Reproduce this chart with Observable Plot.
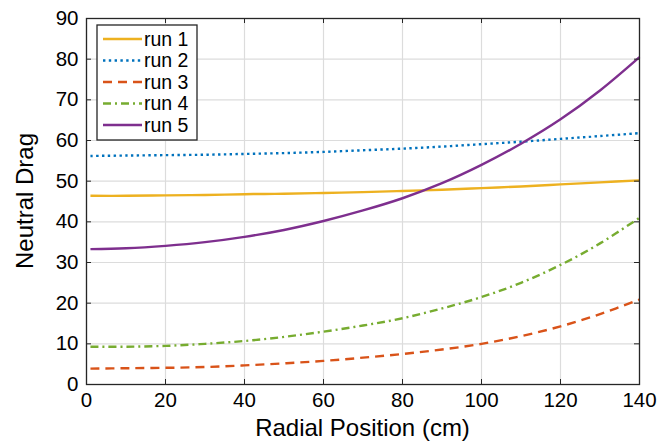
<!DOCTYPE html>
<html>
<head>
<meta charset="utf-8">
<script src="https://cdn.jsdelivr.net/npm/d3@7"></script>
<script src="https://cdn.jsdelivr.net/npm/@observablehq/plot@0.6"></script>
<style>
  body { margin: 0; background: #fff; }
  #wrap { position: relative; width: 657px; height: 443px; font-family: "Liberation Sans", Arial, sans-serif; }
  #overlay { position: absolute; left: 0; top: 0; }
</style>
</head>
<body>
<div id="wrap"></div>
<script>
const xs = [1, 10, 20, 30, 40, 50, 60, 70, 80, 90, 100, 110, 120, 130, 140];
const run1 = [46.4, 46.4, 46.5, 46.6, 46.8, 46.9, 47.1, 47.3, 47.6, 47.9, 48.3, 48.7, 49.2, 49.7, 50.2];
const run2 = [56.2, 56.3, 56.4, 56.5, 56.7, 56.9, 57.2, 57.6, 58.0, 58.5, 59.1, 59.7, 60.4, 61.1, 61.8];
const run3 = [3.9, 4.0, 4.1, 4.3, 4.7, 5.2, 5.8, 6.6, 7.5, 8.6, 10.0, 11.9, 14.3, 17.3, 20.9];
const run4 = [9.3, 9.3, 9.5, 10.0, 10.7, 11.7, 13.0, 14.5, 16.3, 18.7, 21.5, 25.0, 29.4, 34.7, 41.0];
const run5 = [33.3, 33.5, 34.1, 35.0, 36.3, 38.0, 40.2, 42.8, 45.8, 49.5, 54.0, 59.2, 65.2, 72.3, 80.5];
const seriesNames = ["run 1", "run 2", "run 3", "run 4", "run 5"];
const seriesValues = [run1, run2, run3, run4, run5];
const colors = ["#EDB120", "#0072BD", "#D95319", "#77AC30", "#7E2F8E"];
const dashes = [null, "2.4 3.4", "9 6", "8 4 2 4", null];
const xTicks = [0, 20, 40, 60, 80, 100, 120, 140];
const yTicks = [0, 10, 20, 30, 40, 50, 60, 70, 80, 90];
const xLabel = "Radial Position (cm)";
const yLabel = "Neutral Drag";

const W = 657, H = 443;
const mL = 86, mR = 18, mT = 18, mB = 59;
const pw = W - mL - mR, ph = H - mT - mB;
const tk = 5;
const FONT = "'Liberation Sans', Arial, sans-serif";

const marks = [
  Plot.gridX(xTicks, {stroke: "#dcdcdc", strokeOpacity: 1, strokeWidth: 1.2}),
  Plot.gridY(yTicks, {stroke: "#dcdcdc", strokeOpacity: 1, strokeWidth: 1.2}),
];
seriesNames.forEach((name, i) => {
  const data = xs.map((x, j) => ({x, y: seriesValues[i][j]}));
  marks.push(Plot.line(data, {x: "x", y: "y", stroke: colors[i], strokeWidth: 2.4,
    strokeDasharray: dashes[i], curve: "catmull-rom", strokeLinecap: "butt"}));
});
marks.push(
  Plot.tickX(xTicks, {x: d => d, insetTop: ph - tk, stroke: "#262626"}),
  Plot.tickX(xTicks, {x: d => d, insetBottom: ph - tk, stroke: "#262626"}),
  Plot.tickY(yTicks, {y: d => d, insetRight: pw - tk, stroke: "#262626"}),
  Plot.tickY(yTicks, {y: d => d, insetLeft: pw - tk, stroke: "#262626"}),
  Plot.frame({stroke: "#262626", strokeWidth: 1.3}),
  Plot.axisX(xTicks, {tickSize: 0, tickPadding: 8, fontSize: 20.5, label: null}),
  Plot.axisY(yTicks, {tickSize: 0, tickPadding: 8, fontSize: 20.5, label: null})
);

const chart = Plot.plot({
  width: W, height: H,
  marginLeft: mL, marginRight: mR, marginTop: mT, marginBottom: mB,
  x: {domain: [0, 140]},
  y: {domain: [0, 90]},
  style: {fontFamily: FONT, fontSize: "20.5px", color: "#000", background: "#fff"},
  marks
});
document.getElementById("wrap").appendChild(chart);

// overlay: axis labels + legend
const ov = d3.select("#wrap").append("svg").attr("id", "overlay").attr("width", W).attr("height", H);
ov.append("text").attr("x", mL + pw / 2).attr("y", 436).attr("text-anchor", "middle")
  .attr("font-size", 24).attr("font-family", FONT).text(xLabel);
ov.append("text").attr("transform", `translate(33,${mT + ph / 2}) rotate(-90)`).attr("text-anchor", "middle")
  .attr("font-size", 24).attr("font-family", FONT).text(yLabel);

const lx = 97, ly = 25, lw = 100, lh = 115;
ov.append("rect").attr("x", lx).attr("y", ly).attr("width", lw).attr("height", lh)
  .attr("fill", "#fff").attr("stroke", "#262626").attr("stroke-width", 1.3);
seriesNames.forEach((name, i) => {
  const cy = 39 + i * 21.5;
  ov.append("line").attr("x1", 103).attr("x2", 142).attr("y1", cy).attr("y2", cy)
    .attr("stroke", colors[i]).attr("stroke-width", 2.4).attr("stroke-dasharray", dashes[i]);
  ov.append("text").attr("x", 144).attr("y", cy).attr("dy", "0.35em")
    .attr("font-size", 19.5).attr("font-family", FONT).text(name);
});
</script>
</body>
</html>
